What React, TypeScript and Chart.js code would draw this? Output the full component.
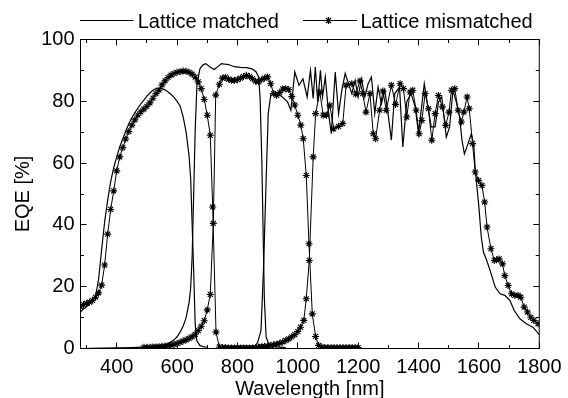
import React, { useEffect, useRef } from 'react';
import { Chart, registerables } from 'chart.js';

Chart.register(...registerables);

const FONT = '"Liberation Sans", Arial, Helvetica, sans-serif';
const FONT_SIZE = 20;

const seriesNames = ['Lattice matched', 'Lattice mismatched'];
const xTitle = 'Wavelength [nm]';
const yTitle = 'EQE [%]';
const xLabelTicks = [400, 600, 800, 1000, 1200, 1400, 1600, 1800];
const xMinorTicks = [300, 500, 700, 900, 1100, 1300, 1500, 1700];
const yLabelTicks = [0, 20, 40, 60, 80, 100];
const yMinorTicks = [10, 30, 50, 70, 90];

// Lattice matched – top cell
const matchedTopWl = [280, 290, 300, 310, 320, 330, 340, 350, 360, 370, 380, 390, 400, 410, 420, 430, 440, 450, 460, 470, 480, 490, 500, 510, 520, 530, 540, 550, 560, 570, 580, 590, 600, 610, 620, 630, 640, 645, 650, 655, 660, 665, 675, 690, 700];
const matchedTopEqe = [11.8, 12.8, 13.5, 14.5, 15.6, 16.8, 22.5, 32.0, 41.0, 48.0, 54.0, 58.5, 62.0, 65.3, 67.8, 70.4, 72.7, 74.7, 76.3, 77.8, 79.2, 80.4, 81.7, 82.7, 83.6, 84.1, 84.2, 84.1, 83.7, 83.0, 82.2, 81.3, 80.0, 78.5, 75.0, 70.0, 62.0, 55.0, 40.0, 25.0, 8.0, 2.6, 1.0, 0.5, 0.4];

// Lattice matched – middle cell
const matchedMiddleWl = [280, 350, 400, 450, 500, 530, 550, 570, 590, 600, 610, 620, 630, 640, 645, 650, 655, 660, 666, 676, 686, 695, 709, 723, 736, 747, 760, 770, 790, 810, 830, 850, 862, 870, 875, 881, 885, 889, 895, 906, 930, 960];
const matchedMiddleEqe = [0.0, 0.1, 0.2, 0.3, 0.5, 0.7, 1.0, 1.5, 2.8, 3.8, 5.3, 7.2, 10.0, 15.0, 19.5, 30.0, 50.0, 70.6, 85.7, 90.6, 91.8, 92.2, 91.1, 90.3, 91.3, 92.2, 92.0, 91.9, 91.2, 91.0, 90.9, 90.4, 89.5, 87.9, 81.4, 59.8, 38.2, 16.6, 3.7, 1.0, 0.5, 0.3];

// Lattice matched – bottom cell
const matchedBottomWl = [840, 856, 867, 878, 887, 895, 902, 911, 922, 933, 949, 966, 977, 990, 1004, 1017, 1031, 1042, 1051, 1058, 1066, 1075, 1082, 1091, 1102, 1111, 1124, 1135, 1146, 1157, 1168, 1179, 1190, 1200, 1211, 1222, 1233, 1244, 1255, 1266, 1277, 1288, 1299, 1310, 1321, 1337, 1348, 1361, 1375, 1389, 1400, 1419, 1431, 1442, 1455, 1466, 1477, 1492, 1503, 1514, 1525, 1536, 1544, 1552, 1564, 1575, 1583, 1588, 1599, 1608, 1615, 1626, 1637, 1654, 1670, 1686, 1703, 1717, 1736, 1757, 1779, 1800];
const matchedBottomEqe = [0.2, 0.5, 2.0, 5.8, 27.4, 54.4, 76.0, 82.5, 83.0, 82.5, 81.4, 79.8, 77.1, 89.5, 85.2, 87.3, 81.4, 90.0, 80.9, 91.1, 79.8, 90.0, 81.4, 87.9, 76.0, 69.5, 89.5, 76.0, 83.6, 89.0, 85.7, 82.5, 86.8, 81.4, 87.3, 81.4, 85.7, 87.9, 76.0, 84.6, 79.2, 83.6, 76.0, 67.4, 82.5, 84.6, 65.2, 79.8, 82.5, 78.2, 69.5, 85.7, 78.2, 71.7, 71.7, 79.8, 81.4, 68.4, 71.7, 83.6, 79.8, 74.9, 67.4, 63.0, 66.3, 69.5, 65.8, 57.6, 46.9, 36.0, 31.2, 28.5, 25.3, 19.9, 17.7, 17.2, 15.5, 12.3, 9.6, 8.0, 6.9, 4.5];

// Lattice mismatched – top cell
const mismatchedTopWl = [280, 290, 300, 310, 320, 330, 340, 350, 360, 370, 380, 390, 400, 410, 420, 430, 440, 450, 460, 470, 480, 490, 500, 510, 520, 530, 540, 550, 560, 570, 580, 590, 600, 610, 620, 630, 640, 650, 660, 670, 680, 690, 700, 710, 718, 729, 740, 750, 760, 770, 780, 790, 800, 810, 820, 830, 840, 850];
const mismatchedTopEqe = [13.5, 14.2, 14.6, 15.0, 15.6, 16.6, 18.0, 20.5, 27.0, 37.0, 45.0, 51.0, 57.5, 62.0, 65.0, 67.8, 70.2, 72.3, 74.0, 75.5, 76.6, 77.5, 78.4, 79.5, 81.0, 82.5, 83.6, 85.3, 86.6, 87.7, 88.5, 89.0, 89.4, 89.6, 89.8, 89.7, 89.4, 88.8, 87.8, 86.3, 84.1, 80.6, 75.5, 69.0, 45.8, 5.3, 0.5, 0.3, 0.3, 0.2, 0.2, 0.2, 0.2, 0.2, 0.2, 0.2, 0.2, 0.2];

// Lattice mismatched – middle cell
const mismatchedMiddleWl = [490, 500, 510, 520, 530, 540, 550, 560, 570, 580, 590, 600, 610, 620, 630, 640, 650, 660, 670, 680, 690, 700, 710, 720, 728, 740, 750, 760, 770, 780, 790, 800, 810, 820, 830, 840, 850, 860, 870, 880, 890, 900, 910, 920, 930, 940, 950, 960, 970, 980, 990, 1000, 1010, 1018, 1028, 1037, 1048, 1059, 1069, 1080, 1090, 1100, 1110, 1120, 1130, 1140, 1150, 1160, 1170, 1180, 1190, 1200];
const mismatchedMiddleEqe = [0.4, 0.4, 0.4, 0.5, 0.5, 0.6, 0.7, 0.8, 0.9, 1.1, 1.3, 1.6, 2.0, 2.4, 2.8, 3.3, 3.8, 4.6, 5.8, 7.2, 9.0, 12.5, 17.5, 40.5, 82.0, 85.5, 87.5, 87.8, 87.2, 86.8, 86.8, 87.0, 87.5, 88.0, 88.4, 88.0, 87.3, 86.5, 86.3, 87.0, 87.5, 87.9, 85.7, 82.5, 81.9, 82.8, 84.0, 84.1, 83.8, 81.5, 78.8, 75.5, 72.3, 67.9, 56.0, 33.9, 11.2, 3.9, 1.0, 0.5, 0.3, 0.3, 0.3, 0.3, 0.3, 0.3, 0.3, 0.3, 0.3, 0.3, 0.3, 0.3];

// Lattice mismatched – bottom cell
const mismatchedBottomWl = [860, 870, 880, 890, 900, 910, 920, 930, 940, 950, 960, 970, 980, 990, 1000, 1009, 1020, 1028, 1038, 1051, 1059, 1073, 1084, 1095, 1106, 1119, 1135, 1149, 1160, 1179, 1192, 1206, 1215, 1226, 1239, 1250, 1258, 1271, 1282, 1293, 1310, 1324, 1339, 1350, 1361, 1372, 1381, 1392, 1402, 1411, 1422, 1433, 1444, 1455, 1466, 1479, 1490, 1501, 1509, 1520, 1531, 1542, 1550, 1561, 1568, 1579, 1588, 1599, 1610, 1619, 1627, 1640, 1651, 1659, 1667, 1678, 1686, 1697, 1708, 1719, 1730, 1739, 1750, 1761, 1772, 1782, 1796];
const mismatchedBottomEqe = [0.3, 0.5, 0.6, 0.7, 0.8, 1.0, 1.2, 1.4, 1.7, 2.1, 2.6, 3.1, 3.8, 4.5, 5.5, 6.9, 9.1, 16.1, 28.5, 62.0, 76.0, 83.0, 75.5, 75.5, 78.7, 71.1, 71.9, 72.8, 85.2, 85.7, 82.3, 86.6, 82.5, 76.5, 82.5, 69.5, 67.9, 77.1, 83.3, 77.1, 85.2, 79.0, 85.7, 84.1, 74.9, 83.0, 83.6, 77.1, 69.5, 73.8, 82.5, 77.6, 67.4, 76.0, 81.9, 78.2, 72.2, 76.5, 83.6, 84.1, 77.1, 73.3, 76.5, 81.4, 77.6, 66.3, 57.1, 54.4, 52.8, 47.4, 39.3, 32.3, 28.5, 28.7, 29.0, 27.4, 23.6, 20.4, 17.7, 17.2, 17.2, 16.6, 13.4, 11.8, 10.1, 9.1, 8.0];

const pts = (xs: number[], ys: number[]) => xs.map((x, i) => ({ x, y: ys[i] }));

function drawStar(ctx: CanvasRenderingContext2D, cx: number, cy: number, r: number) {
  const d = r * Math.SQRT1_2;
  ctx.beginPath();
  ctx.moveTo(cx - r, cy); ctx.lineTo(cx + r, cy);
  ctx.moveTo(cx, cy - r); ctx.lineTo(cx, cy + r);
  ctx.moveTo(cx - d, cy - d); ctx.lineTo(cx + d, cy + d);
  ctx.moveTo(cx - d, cy + d); ctx.lineTo(cx + d, cy - d);
  ctx.stroke();
}

const framePlugin = {
  id: 'frameTicks',
  afterDatasetsDraw(chart: any) {
    const { ctx, chartArea, scales } = chart;
    const { left, right, top, bottom } = chartArea;
    const xs = scales.x;
    const ys = scales.y;
    ctx.save();
    ctx.strokeStyle = '#000';
    ctx.lineWidth = 1;
    ctx.strokeRect(left, top, right - left, bottom - top);
    ctx.beginPath();
    const xt = (vals: number[], len: number) => vals.forEach((v) => {
      const p = Math.round(xs.getPixelForValue(v) - 0.5) + 0.5;
      ctx.moveTo(p, bottom); ctx.lineTo(p, bottom - len);
      ctx.moveTo(p, top); ctx.lineTo(p, top + len);
    });
    const yt = (vals: number[], len: number) => vals.forEach((v) => {
      const p = Math.round(ys.getPixelForValue(v) - 0.5) + 0.5;
      ctx.moveTo(left, p); ctx.lineTo(left + len, p);
      ctx.moveTo(right, p); ctx.lineTo(right - len, p);
    });
    xt(xLabelTicks, 6);
    xt(xMinorTicks, 3.5);
    yt(yLabelTicks, 6);
    yt(yMinorTicks, 3.5);
    ctx.stroke();
    ctx.restore();
  },
};

const legendPlugin = {
  id: 'customLegend',
  afterDraw(chart: any) {
    const { ctx, chartArea } = chart;
    const L = chartArea.left;
    const ly = 20.5;
    const ty = 27.5;
    ctx.save();
    ctx.font = `${FONT_SIZE}px ${FONT}`;
    ctx.fillStyle = '#000';
    ctx.strokeStyle = '#000';
    ctx.textBaseline = 'alphabetic';
    ctx.textAlign = 'left';
    ctx.lineWidth = 1.2;
    ctx.beginPath();
    ctx.moveTo(L - 0.5, ly); ctx.lineTo(L + 53, ly);
    ctx.stroke();
    ctx.fillText(seriesNames[0], L + 57.2, ty);
    const x2 = L + 222.5;
    ctx.beginPath();
    ctx.moveTo(x2, ly); ctx.lineTo(x2 + 54, ly);
    ctx.stroke();
    ctx.lineWidth = 1.2;
    drawStar(ctx, x2 + 25.5, ly, 3.5);
    ctx.fillText(seriesNames[1], x2 + 57.4, ty);
    ctx.restore();
  },
};

const solid = (label: string, data: any) => ({
  label,
  data,
  borderColor: '#000',
  borderWidth: 1.2,
  pointRadius: 0,
  tension: 0,
  fill: false,
});

const starred = (label: string, data: any) => ({
  label,
  data,
  borderColor: '#000',
  backgroundColor: '#000',
  borderWidth: 1,
  pointStyle: 'star',
  pointRadius: 3.5,
  pointBorderWidth: 1.1,
  pointBorderColor: '#000',
  pointBackgroundColor: '#000',
  tension: 0,
  fill: false,
});

export default function App() {
  const ref = useRef<HTMLCanvasElement | null>(null);
  useEffect(() => {
    document.body.style.margin = '0';
    document.body.style.overflow = 'hidden';
    const canvas = ref.current;
    if (!canvas) return;
    const tickFont = { size: FONT_SIZE, family: FONT };
    const chart = new Chart(canvas, {
      type: 'line',
      data: {
        datasets: [
          solid(seriesNames[0], pts(matchedTopWl, matchedTopEqe)),
          solid(seriesNames[0], pts(matchedMiddleWl, matchedMiddleEqe)),
          solid(seriesNames[0], pts(matchedBottomWl, matchedBottomEqe)),
          starred(seriesNames[1], pts(mismatchedTopWl, mismatchedTopEqe)),
          starred(seriesNames[1], pts(mismatchedMiddleWl, mismatchedMiddleEqe)),
          starred(seriesNames[1], pts(mismatchedBottomWl, mismatchedBottomEqe)),
        ] as any,
      },
      options: {
        animation: false,
        responsive: false,
        devicePixelRatio: 1,
        layout: { padding: { left: 0, right: 23.5, top: 39.5, bottom: 0 } },
        plugins: { legend: { display: false }, tooltip: { enabled: false } },
        scales: {
          x: {
            type: 'linear',
            min: 280,
            max: 1800,
            afterBuildTicks: (s: any) => { s.ticks = xLabelTicks.map((v) => ({ value: v })); },
            afterFit: (s: any) => { s.height = 49.5; },
            grid: { display: false, drawTicks: false },
            border: { display: false },
            ticks: { color: '#000', font: tickFont, padding: 6.5, maxRotation: 0, autoSkip: false, callback: (v: any) => String(v) },
            title: { display: true, text: xTitle, color: '#000', font: tickFont, padding: { top: 0, bottom: -3 } },
          },
          y: {
            type: 'linear',
            min: 0,
            max: 100,
            afterBuildTicks: (s: any) => { s.ticks = yLabelTicks.map((v) => ({ value: v })); },
            afterFit: (s: any) => { s.width = 80.5; },
            grid: { display: false, drawTicks: false },
            border: { display: false },
            ticks: { color: '#000', font: tickFont, padding: 6, autoSkip: false, callback: (v: any) => String(v) },
            title: { display: true, text: yTitle, color: '#000', font: tickFont, padding: { top: 11, bottom: 0 } },
          },
        },
      } as any,
      plugins: [framePlugin, legendPlugin],
    });
    return () => chart.destroy();
  }, []);
  return <canvas ref={ref} width={568} height={398} style={{ display: 'block' }} />;
}
